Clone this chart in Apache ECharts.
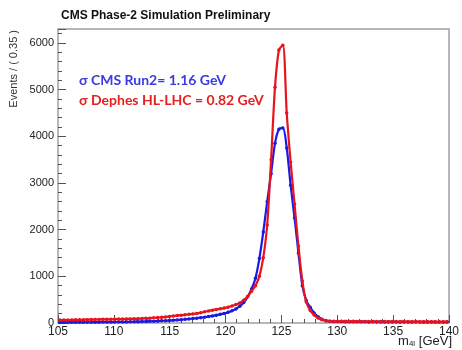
<!DOCTYPE html>
<html>
<head>
<meta charset="utf-8">
<script src="https://cdn.jsdelivr.net/npm/echarts@6/dist/echarts.min.js"></script>
<style>html,body{margin:0;padding:0;background:#fff;}#c{width:462px;height:350px;}</style>
</head>
<body>
<div id="c"></div>
<script>
// Binning: 100 bins of 0.35 GeV from 105 to 140
const binStart = 105;
const binWidth = 0.35;
const nBins = 100;
const binCenters = Array.from({length: nBins}, (_, i) => +(binStart + binWidth * (i + 0.5)).toFixed(3));

// Delphes HL-LHC (red)
const redValues = [
  62, 64, 63, 66, 68, 67, 70, 71, 73, 74,
  76, 78, 80, 79, 82, 84, 85, 87, 88, 90,
  92, 96, 100, 104, 110, 116, 122, 130, 140, 150,
  160, 168, 175, 185, 195, 205, 220, 240, 258, 275,
  290, 305, 320, 340, 365, 395, 430, 490, 570, 680,
  800, 1000, 1400, 2100, 3500, 5050, 5850, 5950, 4500, 3450,
  2550, 1650, 900, 450, 270, 170, 105, 68, 50, 40,
  38, 36, 37, 35, 34, 36, 33, 32, 34, 31,
  33, 30, 32, 31, 29, 31, 30, 28, 30, 29,
  28, 30, 27, 29, 28, 27, 28, 26, 27, 28
];
// CMS Run2 (blue)
const blueValues = [
  12, 14, 13, 15, 14, 16, 15, 17, 16, 18,
  18, 19, 20, 19, 21, 22, 23, 24, 26, 27,
  29, 31, 33, 36, 39, 42, 46, 50, 55, 60,
  66, 72, 79, 87, 95, 104, 114, 125, 138, 152,
  168, 185, 205, 228, 260, 300, 360, 440, 560, 730,
  960, 1380, 1950, 2600, 3200, 3850, 4150, 4180, 3750, 2950,
  2250, 1500, 800, 480, 340, 215, 135, 82, 52, 36,
  32, 30, 31, 28, 27, 29, 26, 25, 27, 24,
  25, 23, 24, 22, 24, 23, 21, 22, 23, 21,
  20, 22, 21, 20, 19, 21, 20, 19, 20, 19
];
const xTicks = [105, 110, 115, 120, 125, 130, 135, 140];
const yTicks = [0, 1000, 2000, 3000, 4000, 5000, 6000];

const titleText = 'CMS Phase-2 Simulation Preliminary';
const yName = 'Events / ( 0.35 )';
const blueLabel = 'σ CMS Run2= 1.16 GeV';
const redLabel = 'σ Dephes HL-LHC = 0.82 GeV';

const RED = '#e8141c';
const BLUE = '#1a1ae6';
const font = '"Liberation Sans", Arial, sans-serif';

const chart = echarts.init(document.getElementById('c'), null, {renderer: 'canvas'});
const option = {
  animation: false,
  backgroundColor: '#fff',
  grid: {left: 58, right: 10, top: 29, bottom: 27, show: true, borderColor: '#a0a0a0', borderWidth: 1.5, backgroundColor: 'transparent'},
  title: {text: titleText, left: 56, top: 5, textStyle: {fontFamily: font, fontSize: 12, fontWeight: 'bold', color: '#111'}},
  xAxis: {
    type: 'value', min: xTicks[0], max: xTicks[xTicks.length - 1], interval: 5,
    axisLine: {show: false},
    axisTick: {show: true, inside: true, length: 8, lineStyle: {color: '#555', width: 1}},
    minorTick: {show: true, splitNumber: 5, length: 4, lineStyle: {color: '#555', width: 1}},
    splitLine: {show: false},
    axisLabel: {margin: 3, fontFamily: font, fontSize: 12, color: '#222'}
  },
  yAxis: {
    type: 'value', min: yTicks[0], max: 6300, interval: 1000,
    axisLine: {show: false},
    axisTick: {show: true, inside: true, length: 8, lineStyle: {color: '#555', width: 1}},
    minorTick: {show: true, splitNumber: 5, length: 4, lineStyle: {color: '#555', width: 1}},
    splitLine: {show: false},
    axisLabel: {margin: 4, fontFamily: font, fontSize: 11, color: '#222', showMaxLabel: false,
      formatter: v => (yTicks.indexOf(v) >= 0 ? String(v) : '')}
  },
  series: [
    {
      type: 'line', name: 'CMS Run2', smooth: 0.3,
      data: binCenters.map((x, i) => [x, blueValues[i]]),
      symbol: 'circle', symbolSize: 3.5, showSymbol: true,
      itemStyle: {color: BLUE}, lineStyle: {color: BLUE, width: 2.2}, z: 2
    },
    {
      type: 'line', name: 'Delphes HL-LHC', smooth: 0.3,
      data: binCenters.map((x, i) => [x, redValues[i]]),
      symbol: 'circle', symbolSize: 3.5, showSymbol: true,
      itemStyle: {color: RED}, lineStyle: {color: RED, width: 2.2}, z: 3
    }
  ],
  graphic: [
    {type: 'text', x: 14, y: 30, rotation: Math.PI / 2,
      style: {text: yName, align: 'right', verticalAlign: 'middle', font: '11px "Liberation Sans", Arial, sans-serif', fill: '#333'}},
    {type: 'text', right: 10, bottom: 2,
      style: {rich: {a: {fontSize: 13, fontFamily: font, fill: '#222', verticalAlign: 'bottom'}, s: {fontSize: 8, fontFamily: font, fill: '#222', padding: [6, 0, 0, 0]}},
        text: '{a|m}{s|4l}{a| [GeV]}'}},
    {type: 'text', x: 79, y: 80,
      style: {text: blueLabel, verticalAlign: 'middle', font: 'bold 14px Lato, "Open Sans", sans-serif', fill: '#3a3ae0'}},
    {type: 'text', x: 79, y: 100,
      style: {text: redLabel, verticalAlign: 'middle', font: 'bold 14px Lato, "Open Sans", sans-serif', fill: '#e52020'}}
  ]
};
chart.setOption(option);
</script>
</body>
</html>
